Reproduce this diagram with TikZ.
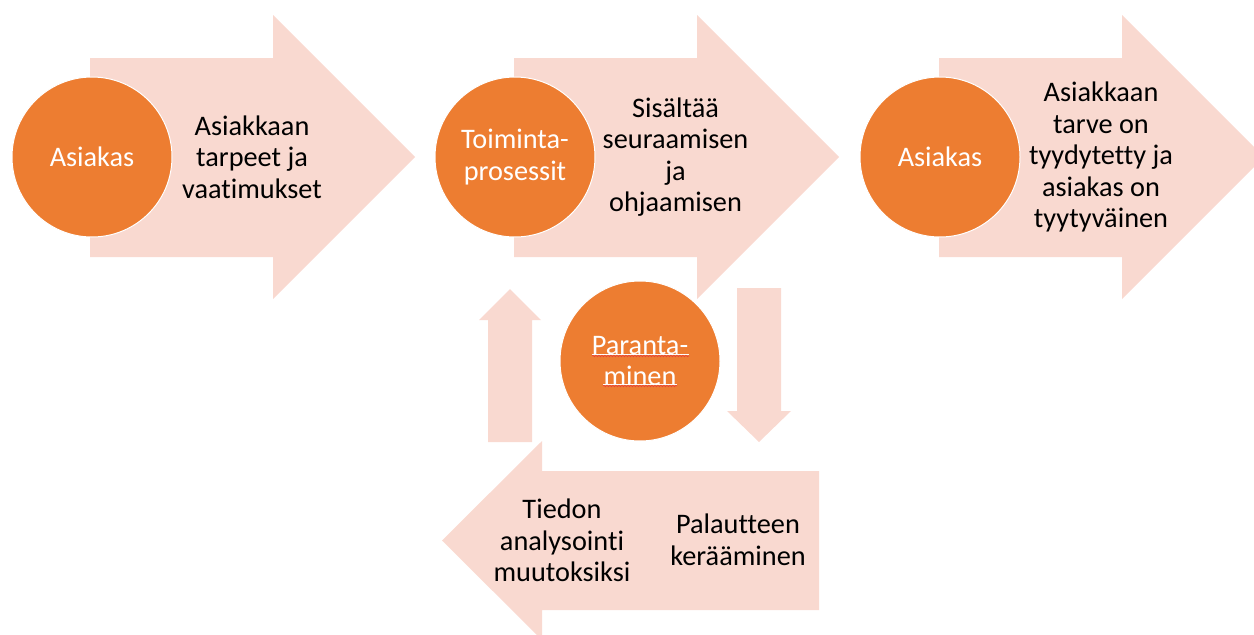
\documentclass[tikz,border=0pt]{standalone}
\usepackage{fontspec}
\setmainfont{Carlito}[Ligatures=NoCommon]
\usetikzlibrary{decorations.pathmorphing}
\definecolor{peach}{HTML}{F9D9D0}
\definecolor{orng}{HTML}{ED7D31}
\definecolor{wavyred}{HTML}{E8403A}
\begin{document}
\begin{tikzpicture}[x=1pt,y=-1pt,
  arrowshape/.style={fill=peach, draw=none},
  disc/.style={circle, fill=orng, draw=white, line width=1pt, minimum size=160pt, inner sep=0pt, text=white, font=\fontsize{28.3}{31.5}\selectfont, align=center},
  bodytext/.style={text=black, font=\fontsize{28.3}{31.5}\selectfont, align=center},
  squiggle/.style={wavyred, line width=0.6pt, decorate, decoration={snake, amplitude=0.8pt, segment length=3pt}},
  plainline/.style={white, line width=0.7pt}]
\useasboundingbox (0,0) rectangle (1254,635);
\begin{scope}
\clip (0,0) rectangle (1254,635);
% top arrows
\fill[arrowshape] (90,58) -- (273,58) -- (273,15) -- (415,157) -- (273,299) -- (273,257) -- (90,257) -- cycle;
\fill[arrowshape] (514,58) -- (697,58) -- (697,15) -- (839,157) -- (697,299) -- (697,257) -- (514,257) -- cycle;
\fill[arrowshape] (939,58) -- (1122,58) -- (1122,15) -- (1264,157) -- (1122,299) -- (1122,257) -- (939,257) -- cycle;
% bottom left arrow
\fill[arrowshape] (819,471) -- (542,471) -- (542,441) -- (442,540.5) -- (542,640) -- (542,610) -- (819,610) -- cycle;
% up arrow
\fill[arrowshape] (488,442) -- (488,320) -- (479,320) -- (510,289) -- (541,320) -- (532,320) -- (532,442) -- cycle;
% down arrow
\fill[arrowshape] (737,288) -- (781,288) -- (781,411) -- (791,411) -- (759,442) -- (727,411) -- (737,411) -- cycle;
\end{scope}
% circles
\node[disc] (c1) at (92,157) {Asiakas};
\node[disc] (c2) at (515,157) {Toiminta-\\prosessit};
\node[disc] (c3) at (940,157) {Asiakas};
\node[disc] (c4) at (640,361) {Paranta-\\minen};
% underlines in the last circle
\draw[plainline] (592,354) -- (689,354);
\draw[plainline] (603,384) -- (677,384);
\draw[squiggle] (592,356) -- (689,356);
\draw[squiggle] (603,386) -- (677,386);
% texts
\node[bodytext] (t1) at (252,157) {Asiakkaan\\tarpeet ja\\vaatimukset};
\node[bodytext] (t2) at (675.5,157) {Sisältää\\seuraamisen\\ja\\ohjaamisen};
\node[bodytext] (t3) at (1101,157) {Asiakkaan\\tarve on\\tyydytetty ja\\asiakas on\\tyytyväinen};
\node[bodytext] (t4) at (562,540.5) {Tiedon\\analysointi\\muutoksiksi};
\node[bodytext] (t5) at (738,540) {Palautteen\\kerääminen};
\end{tikzpicture}
\end{document}
